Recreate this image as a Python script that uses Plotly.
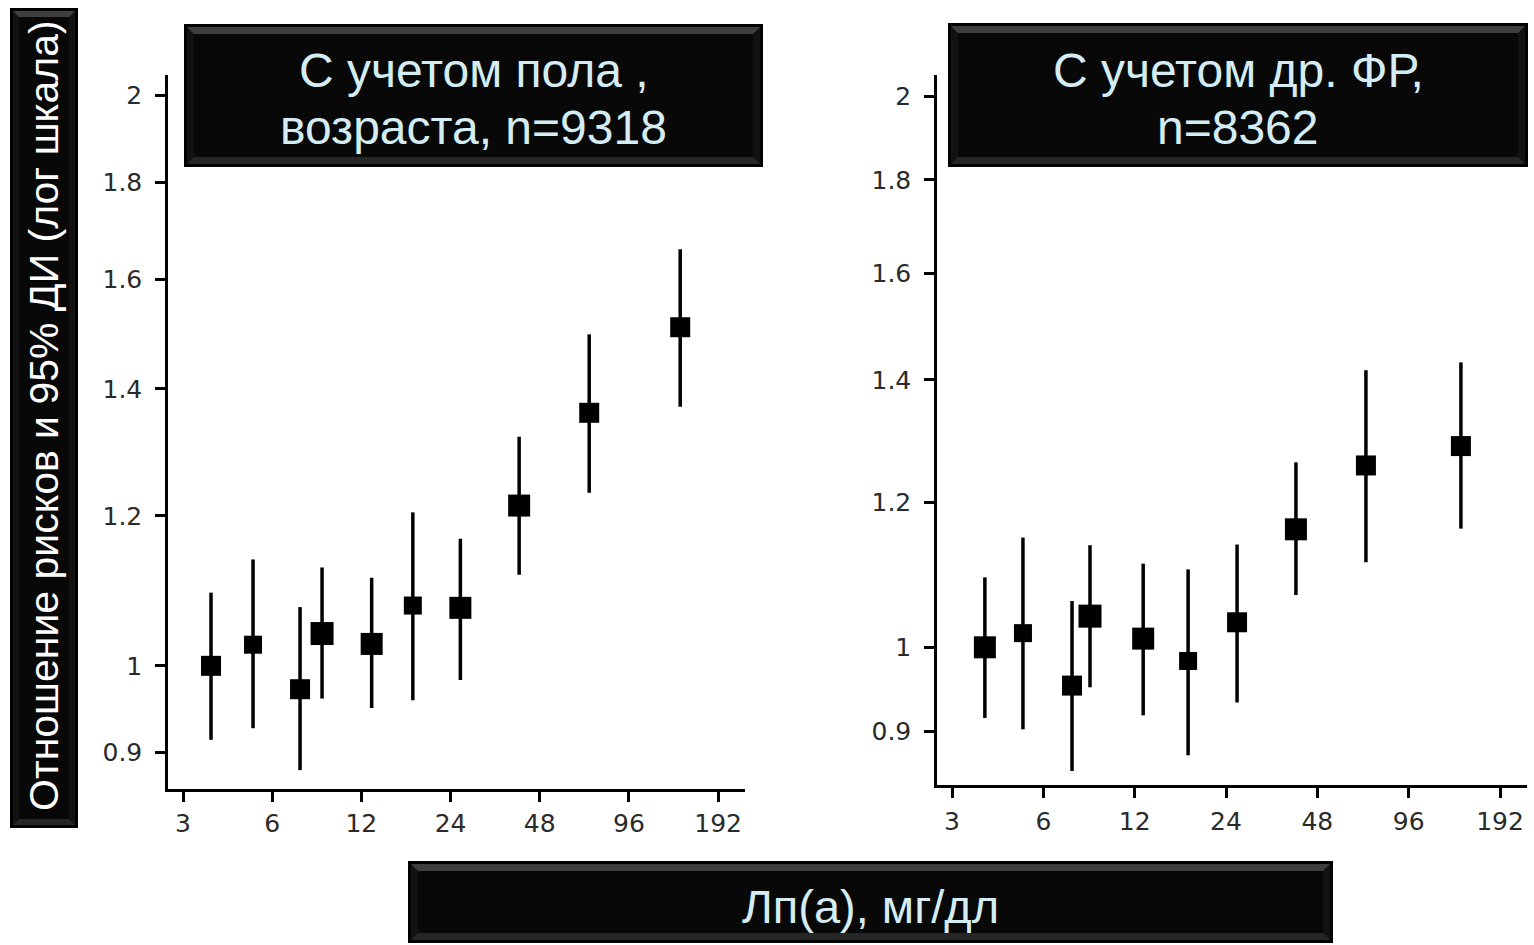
import plotly.graph_objects as go

W, H = 1534, 945

# ---- data ----
x_lpa_left = [3.73, 5.17, 7.45, 8.84, 13.0, 17.9, 25.9, 40.9, 70.5, 143.0]
hr_left = [1.000, 1.026, 0.972, 1.040, 1.027, 1.076, 1.073, 1.215, 1.360, 1.509]
hr_left_hi = [1.093, 1.138, 1.074, 1.127, 1.113, 1.205, 1.167, 1.321, 1.496, 1.659]
hr_left_lo = [0.914, 0.927, 0.881, 0.961, 0.950, 0.959, 0.983, 1.117, 1.234, 1.370]
size_left = [20, 18, 20, 23, 22, 18, 22, 22, 20, 20]

x_lpa_right = [3.85, 5.14, 7.46, 8.55, 12.8, 18.0, 26.1, 40.8, 69.4, 142.7]
hr_right = [1.000, 1.018, 0.953, 1.040, 1.011, 0.983, 1.032, 1.160, 1.257, 1.288]
hr_right_hi = [1.092, 1.148, 1.060, 1.137, 1.111, 1.103, 1.138, 1.262, 1.417, 1.431]
hr_right_lo = [0.915, 0.902, 0.856, 0.951, 0.918, 0.873, 0.933, 1.068, 1.113, 1.161]
size_right = [22, 18, 20, 23, 22, 18, 20, 22, 20, 20]

x_ticks = [3, 6, 12, 24, 48, 96, 192]
y_ticks = [0.9, 1, 1.2, 1.4, 1.6, 1.8, 2]

title_left = ["С учетом пола ,", "возраста, n=9318"]
title_right = ["С учетом др. ФР,", "n=8362"]
y_label = "Отношение рисков и 95% ДИ (лог шкала)"
x_label = "Лп(а), мг/дл"

fig = go.Figure()

def add_series(x, y, hi, lo, sizes, xa, ya):
    fig.add_trace(go.Scatter(
        x=x, y=y, mode="markers", xaxis=xa, yaxis=ya,
        marker=dict(symbol="square", size=sizes, color="black", opacity=1,
                    line=dict(width=0)),
        error_y=dict(type="data", symmetric=False,
                     array=[h - v for h, v in zip(hi, y)],
                     arrayminus=[v - l for v, l in zip(y, lo)],
                     color="black", thickness=3.5, width=0),
        showlegend=False))

add_series(x_lpa_left, hr_left, hr_left_hi, hr_left_lo, size_left, "x", "y")
add_series(x_lpa_right, hr_right, hr_right_hi, hr_right_lo, size_right, "x2", "y2")

def px(x):
    return x / W

def py(y):
    return 1 - y / H

tickfont = dict(family="DejaVu Sans", size=25, color="#2a2a2a")
axis_common = dict(showline=True, linecolor="black", linewidth=2.5, ticks="outside",
                   ticklen=10, tickwidth=2.5, tickcolor="black", showgrid=False,
                   zeroline=False, tickfont=tickfont)

fig.update_layout(
    width=W, height=H, margin=dict(l=0, r=0, t=0, b=0),
    paper_bgcolor="white", plot_bgcolor="white",
    xaxis=dict(type="log", domain=[px(168), px(745)], anchor="y",
               range=[0.4265, 2.374], tickvals=x_ticks, ticktext=[str(v) for v in x_ticks],
               ticklabelstandoff=0, **axis_common),
    yaxis=dict(type="log", domain=[py(789), py(75)], anchor="x",
               range=[-0.065, 0.3118], tickvals=y_ticks, ticktext=[str(v) for v in y_ticks],
               ticklabelstandoff=8, **axis_common),
    xaxis2=dict(type="log", domain=[px(937), px(1527)], anchor="y2",
                range=[0.4277, 2.3722], tickvals=x_ticks, ticktext=[str(v) for v in x_ticks],
                ticklabelstandoff=2, **axis_common),
    yaxis2=dict(type="log", domain=[py(785), py(75)], anchor="x2",
                range=[-0.0752, 0.3126], tickvals=y_ticks, ticktext=[str(v) for v in y_ticks],
                ticklabelstandoff=8, **axis_common),
)

shapes = []

def rect(x0, y0, x1, y1, color):
    shapes.append(dict(type="rect", xref="paper", yref="paper", x0=px(x0), x1=px(x1),
                       y0=py(y1), y1=py(y0), fillcolor=color, line=dict(width=0), layer="above"))

def trap(pts, color):
    path = "M " + " L ".join(f"{px(a)},{py(b)}" for a, b in pts) + " Z"
    shapes.append(dict(type="path", xref="paper", yref="paper", path=path,
                       fillcolor=color, line=dict(width=0), layer="above"))

def bevel_box(x0, y0, x1, y1, b=7, e=3):
    rect(x0, y0, x1, y1, "#000000")
    ix0, iy0, ix1, iy1 = x0 + e, y0 + e, x1 - e, y1 - e
    rect(ix0, iy0, ix1, iy1, "#121212")
    trap([(ix0, iy0), (ix1, iy0), (ix1 - b, iy0 + b), (ix0 + b, iy0 + b)], "#3e3e3e")
    trap([(ix0, iy1), (ix1, iy1), (ix1 - b, iy1 - b), (ix0 + b, iy1 - b)], "#262626")
    rect(ix0 + b, iy0 + b, ix1 - b, iy1 - b, "#080808")

bevel_box(184, 24, 763, 167)
bevel_box(948, 23, 1528, 167)
bevel_box(10, 8, 78, 828, b=6)
bevel_box(408, 861, 1333, 943)

annotations = []
title_font = dict(family="Liberation Sans", size=48, color="#d4edf4")
for i, line in enumerate(title_left):
    annotations.append(dict(text=line, x=px(473.5), y=py(70 + 57 * i), xref="paper", yref="paper",
                            showarrow=False, font=title_font, xanchor="center", yanchor="middle"))
for i, line in enumerate(title_right):
    annotations.append(dict(text=line, x=px(1238), y=py(70 + 57 * i), xref="paper", yref="paper",
                            showarrow=False, font=title_font, xanchor="center", yanchor="middle"))
annotations.append(dict(text=y_label, x=px(44), y=py(416), xref="paper", yref="paper",
                        showarrow=False, textangle=-90,
                        font=dict(family="Liberation Sans", size=41, color="white"),
                        xanchor="center", yanchor="middle"))
annotations.append(dict(text=x_label, x=px(870), y=py(906), xref="paper", yref="paper",
                        showarrow=False,
                        font=dict(family="Liberation Sans", size=47, color="#d4edf4"),
                        xanchor="center", yanchor="middle"))

fig.update_layout(shapes=shapes, annotations=annotations)

fig.write_html("out.html", config={"displayModeBar": False},
               post_script="document.body.style.margin='0';document.body.style.overflow='hidden';")
